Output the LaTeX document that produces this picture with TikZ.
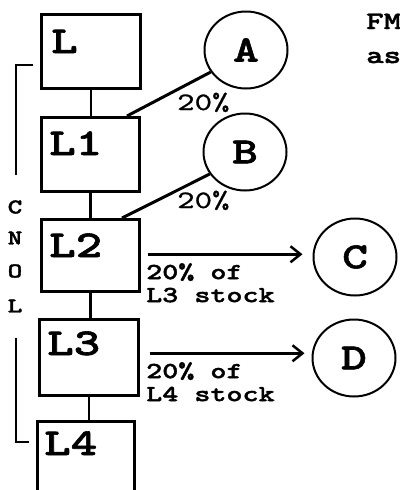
\documentclass[tikz,border=0pt]{standalone}
\usepackage{fontspec}
\usetikzlibrary{shapes.geometric,arrows.meta,calc}
\newfontfamily\courb{lmmonolt10-bold.otf}[FakeStretch=1.33,FakeBold=1.6]
\newfontfamily\courr{lmmono10-regular.otf}[FakeStretch=1.33,FakeBold=1]
\begin{document}
\begin{tikzpicture}[x=1pt,y=-1pt,
  box/.style={draw, line width=2.5pt, rectangle, inner sep=0pt, anchor=north west},
  boxlbl/.style={font=\courb\fontsize{38}{38}\selectfont, inner sep=0pt, anchor=base west},
  circ/.style={draw, ellipse, line width=2pt, minimum width=83pt, minimum height=77pt, inner sep=0pt,
    font=\courb\fontsize{37}{37}\selectfont},
  link/.style={line width=2.5pt},
  spoke/.style={line width=3pt},
  brk/.style={line width=2pt},
  arr/.style={line width=2.5pt, -{Straight Barb[length=10pt,width=16pt]}},
  pct/.style={font=\courr\fontsize{25}{25}\selectfont, inner sep=0pt, anchor=base west},
  stk/.style={font=\courb\fontsize{23}{23}\selectfont, inner sep=0pt, anchor=north west, align=left},
  vlet/.style={font=\courb\fontsize{21}{21}\selectfont, inner sep=0pt},
  fmtxt/.style={font=\courb\fontsize{25}{25}\selectfont, inner sep=0pt, anchor=base west}]
\useasboundingbox (0,0) rectangle (399,490);
% boxes
\node[box, minimum width=99pt, minimum height=74pt] (L) at (40,13) {};
\node[box, minimum width=98pt, minimum height=74pt] (L1) at (40,116) {};
\node[box, minimum width=98pt, minimum height=72pt] (L2) at (40,218) {};
\node[box, minimum width=99pt, minimum height=76pt] (L3) at (38,318) {};
\node[box, minimum width=97pt, minimum height=130pt] (L4) at (36,420) {};
% box labels
\node[boxlbl] (tL) at ($(L.north west)+(11,40)$) {L};
\node[boxlbl] (tL1) at ($(L1.north west)+(9,39)$) {L1};
\node[boxlbl] (tL2) at ($(L2.north west)+(9,39)$) {L2};
\node[boxlbl] (tL3) at ($(L3.north west)+(9,37)$) {L3};
\node[boxlbl] (tL4) at ($(L4.north west)+(8,35)$) {L4};
% chain
\draw[link] (L.south) -- (L.south |- L1.north);
\draw[link] (L1.south) -- (L1.south |- L2.north);
\draw[link] (L2.south) -- (L2.south |- L3.north);
\draw[link] (L3.south) -- (L3.south |- L4.north);
% circles
\node[circ] (A) at (246,50) {A};
\node[circ] (B) at (245,152) {B};
\node[circ] (C) at (355,257) {C};
\node[circ] (D) at (354,358) {D};
% spokes
\coordinate (a1) at ($(L1.north west)+(87,0)$);
\coordinate (b1) at ($(L2.north west)+(82,0)$);
\draw[spoke] (a1) -- (A.212);
\draw[spoke] (b1) -- (B.212);
\node[pct] (pA) at (177,110) {20\%};
\node[pct] (pB) at (177,208) {20\%};
% arrows
\coordinate (c1) at ($(L2.east)+(7,-1)$);
\coordinate (d1) at ($(L3.east)+(10,-4)$);
\draw[arr] (c1) -- ($(c1 -| C.west)+(-10,0)$);
\draw[arr] (d1) -- ($(d1 -| D.west)+(-7,0)$);
\node[stk] (sC) at (146,263) {20\% of\\L3 stock};
\node[stk] (sD) at (146,362) {20\% of\\L4 stock};
% bracket
\coordinate (bt1) at (33,65);
\coordinate (bt2) at (16,65);
\coordinate (bt3) at (16,175);
\draw[brk] (bt1) -- (bt2) -- (bt3);
\coordinate (bb1) at (16,338);
\coordinate (bb2) at (16,442);
\coordinate (bb3) at (29,442);
\draw[brk] (bb1) -- (bb2) -- (bb3);
\node[vlet] (v1) at (15,207) {C};
\node[vlet] (v2) at (15,238) {N};
\node[vlet] (v3) at (15,271) {O};
\node[vlet] (v4) at (15,306) {L};
% top right text
\node[fmtxt] (fm) at (366,29) {FM};
\node[fmtxt] (as) at (366,63) {as};
\end{tikzpicture}
\end{document}
